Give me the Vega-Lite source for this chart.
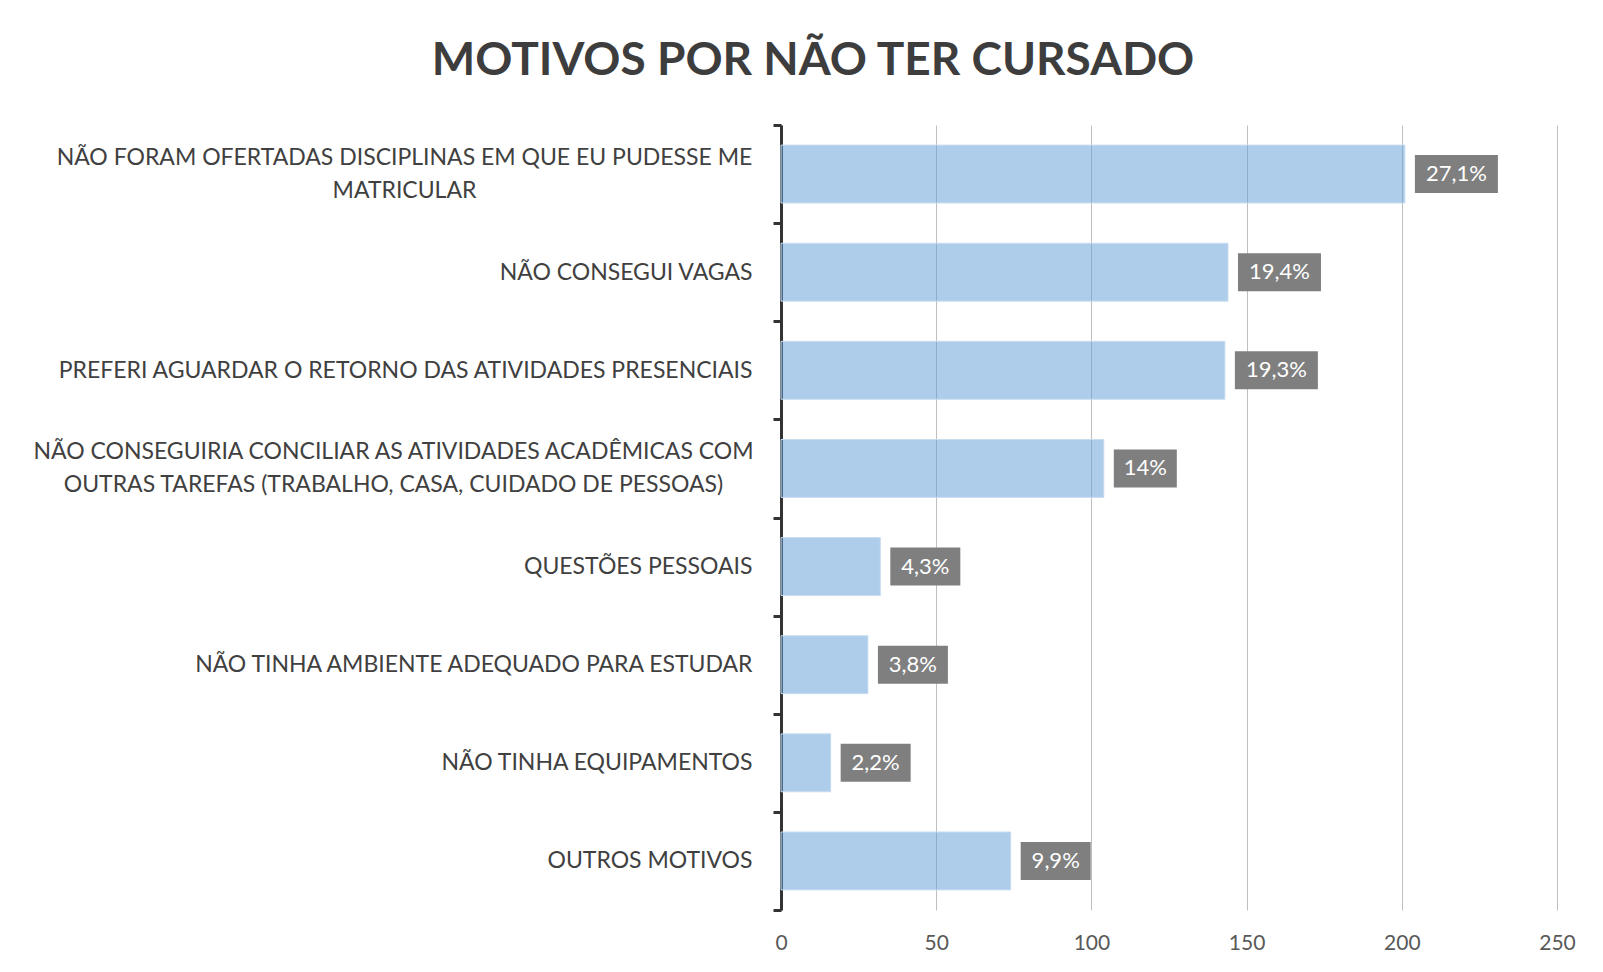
{
  "$schema": "https://vega.github.io/schema/vega-lite/v6.json",
  "autosize": {"type": "none"},
  "width": 776,
  "height": 785,
  "padding": {"left": 781, "top": 125, "right": 46, "bottom": 62},
  "background": "white",
  "title": {
    "text": "MOTIVOS POR NÃO TER CURSADO",
    "font": "Lato",
    "fontSize": 46,
    "fontWeight": "bold",
    "color": "#3d3d3d",
    "anchor": "middle",
    "frame": "group",
    "dx": -356,
    "offset": 29
  },
  "data": {
    "values": [
      {"motivo": "NÃO FORAM OFERTADAS DISCIPLINAS EM QUE EU PUDESSE ME\nMATRICULAR", "n": 201, "pct": "27,1%"},
      {"motivo": "NÃO CONSEGUI VAGAS", "n": 144, "pct": "19,4%"},
      {"motivo": "PREFERI AGUARDAR O RETORNO DAS ATIVIDADES PRESENCIAIS", "n": 143, "pct": "19,3%"},
      {"motivo": "NÃO CONSEGUIRIA CONCILIAR AS ATIVIDADES ACADÊMICAS COM\nOUTRAS TAREFAS (TRABALHO, CASA, CUIDADO DE PESSOAS)", "n": 104, "pct": "14%"},
      {"motivo": "QUESTÕES PESSOAIS", "n": 32, "pct": "4,3%"},
      {"motivo": "NÃO TINHA AMBIENTE ADEQUADO PARA ESTUDAR", "n": 28, "pct": "3,8%"},
      {"motivo": "NÃO TINHA EQUIPAMENTOS", "n": 16, "pct": "2,2%"},
      {"motivo": "OUTROS MOTIVOS", "n": 74, "pct": "9,9%"}
    ]
  },
  "layer": [
    {
      "mark": {"type": "bar", "fill": "#5b9bd5", "fillOpacity": 0.5, "stroke": "#c8dcf0", "strokeWidth": 1, "height": {"band": 0.59}},
      "encoding": {
        "y": {
          "field": "motivo",
          "type": "nominal",
          "sort": null,
          "title": null,
          "scale": {"paddingInner": 0, "paddingOuter": 0},
          "axis": {
            "labelExpr": "isValid(datum.value) ? split(datum.value, '\\n') : ''",
            "labelFont": "Lato",
            "labelFontSize": 23,
            "labelColor": "#404040",
            "labelLineHeight": 33,
            "labelLimit": 900,
            "tickSize": 8,
            "tickWidth": 3,
            "tickColor": "#333333",
            "domainColor": "#333333",
            "domainWidth": 3,
            "tickBand": "extent",
            "grid": false,
            "labelAlign": {"condition": {"test": "isValid(datum.value) && indexof(datum.value, '\\n') >= 0", "value": "center"}, "value": "right"},
            "labelOffset": {"condition": {"test": "isValid(datum.value) && indexof(datum.value, '\\n') >= 0", "value": -16.5}, "value": 0},
            "labelPadding": {"condition": [
              {"test": "isValid(datum.value) && indexof(datum.value, 'MATRICULAR') >= 0", "value": 369},
              {"test": "isValid(datum.value) && indexof(datum.value, 'OUTRAS TAREFAS') >= 0", "value": 380}
            ], "value": 21}
          }
        },
        "x": {
          "field": "n",
          "type": "quantitative",
          "title": null,
          "scale": {"domain": [0, 250], "nice": false},
          "axis": {
            "values": [0, 50, 100, 150, 200, 250],
            "domain": false,
            "ticks": false,
            "labelFlush": false,
            "labelFont": "Lato",
            "labelFontSize": 21,
            "labelColor": "#595959",
            "labelPadding": 22,
            "gridColor": "#bfbfbf",
            "gridWidth": 1
          }
        }
      }
    },
    {
      "mark": {"type": "bar", "fill": "#7f7f7f", "xOffset": 10, "x2Offset": 93, "height": {"band": 0.387}},
      "transform": [{"filter": "length(datum.pct) == 5"}],
      "encoding": {"y": {"field": "motivo", "type": "nominal", "sort": null}, "x": {"field": "n", "type": "quantitative"}, "x2": {"field": "n"}}
    },
    {
      "mark": {"type": "text", "color": "white", "font": "Lato", "fontSize": 22, "align": "center", "baseline": "middle", "dx": 51.5},
      "transform": [{"filter": "length(datum.pct) == 5"}],
      "encoding": {"y": {"field": "motivo", "type": "nominal", "sort": null}, "x": {"field": "n", "type": "quantitative"}, "text": {"field": "pct"}}
    },
    {
      "mark": {"type": "bar", "fill": "#7f7f7f", "xOffset": 10, "x2Offset": 80, "height": {"band": 0.387}},
      "transform": [{"filter": "length(datum.pct) == 4"}],
      "encoding": {"y": {"field": "motivo", "type": "nominal", "sort": null}, "x": {"field": "n", "type": "quantitative"}, "x2": {"field": "n"}}
    },
    {
      "mark": {"type": "text", "color": "white", "font": "Lato", "fontSize": 22, "align": "center", "baseline": "middle", "dx": 45},
      "transform": [{"filter": "length(datum.pct) == 4"}],
      "encoding": {"y": {"field": "motivo", "type": "nominal", "sort": null}, "x": {"field": "n", "type": "quantitative"}, "text": {"field": "pct"}}
    },
    {
      "mark": {"type": "bar", "fill": "#7f7f7f", "xOffset": 10, "x2Offset": 73, "height": {"band": 0.387}},
      "transform": [{"filter": "length(datum.pct) == 3"}],
      "encoding": {"y": {"field": "motivo", "type": "nominal", "sort": null}, "x": {"field": "n", "type": "quantitative"}, "x2": {"field": "n"}}
    },
    {
      "mark": {"type": "text", "color": "white", "font": "Lato", "fontSize": 22, "align": "center", "baseline": "middle", "dx": 41.5},
      "transform": [{"filter": "length(datum.pct) == 3"}],
      "encoding": {"y": {"field": "motivo", "type": "nominal", "sort": null}, "x": {"field": "n", "type": "quantitative"}, "text": {"field": "pct"}}
    }
  ],
  "config": {"view": {"stroke": null}}
}
